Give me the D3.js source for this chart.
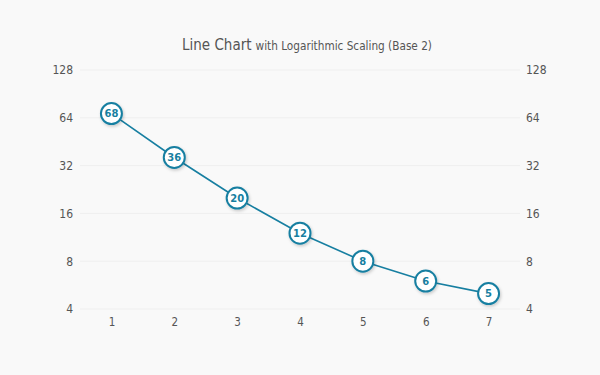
<!DOCTYPE html>
<html><head><meta charset="utf-8">
<script src="https://cdn.jsdelivr.net/npm/d3@7"></script>
<style>
html,body{margin:0;padding:0;background:#f9f9f9;}
svg{display:block;font-family:"DejaVu Sans Condensed","DejaVu Sans",sans-serif;}
</style></head>
<body><svg id="c" width="600" height="375"></svg>
<script>
const categories = [1, 2, 3, 4, 5, 6, 7];
const values = [68, 36, 20, 12, 8, 6, 5];
const yTicks = [4, 8, 16, 32, 64, 128];

(function () {
const svg = d3.select("#c");
const W = 600, H = 375;
const pLeft = 80, pRight = 520, pTop = 70, pBottom = 309;
const color = "#177fa1";

svg.append("rect").attr("width", W).attr("height", H).attr("fill", "#f9f9f9");

const defs = svg.append("defs");
const f = defs.append("filter").attr("id", "sh").attr("x", "-50%").attr("y", "-50%").attr("width", "200%").attr("height", "200%");
f.append("feDropShadow").attr("dx", 1).attr("dy", 1.5).attr("stdDeviation", 1.5).attr("flood-color", "#000").attr("flood-opacity", 0.2);

const x = d3.scalePoint().domain(categories).range([pLeft, pRight]).padding(0.5);
const y = d3.scaleLog().base(2).domain([4, 128]).range([pBottom, pTop]);

svg.append("g").selectAll("line").data(yTicks).join("line")
  .attr("x1", pLeft).attr("x2", pRight)
  .attr("y1", d => y(d)).attr("y2", d => y(d))
  .attr("stroke", "#efefef").attr("stroke-width", 1);

const ff = "'DejaVu Sans Condensed','DejaVu Sans',sans-serif";
const axL = svg.append("g").attr("transform", `translate(${pLeft},0)`)
  .call(d3.axisLeft(y).tickValues(yTicks).tickFormat(d3.format("d")).tickSize(0).tickPadding(7));
axL.select(".domain").remove();
axL.selectAll("text").attr("fill", "#555").style("font-size", "12px").style("font-family", ff);

const axR = svg.append("g").attr("transform", `translate(${pRight},0)`)
  .call(d3.axisRight(y).tickValues(yTicks).tickFormat(d3.format("d")).tickSize(0).tickPadding(6));
axR.select(".domain").remove();
axR.selectAll("text").attr("fill", "#555").style("font-size", "12px").style("font-family", ff);

const axB = svg.append("g").attr("transform", `translate(0,${pBottom})`)
  .call(d3.axisBottom(x).tickSize(0).tickPadding(9));
axB.select(".domain").remove();
axB.selectAll("text").attr("fill", "#555").style("font-size", "11.5px").style("font-family", ff);

const t = svg.append("text").attr("x", 307).attr("y", 50).attr("text-anchor", "middle").attr("fill", "#555").style("font-family", ff);
t.append("tspan").style("font-size", "15px").text("Line Chart");
t.append("tspan").style("font-size", "11.7px").attr("dx", 4).text("with Logarithmic Scaling (Base 2)");

const data = categories.map((c, i) => ({c, v: values[i]}));

svg.append("path").datum(data)
  .attr("fill", "none").attr("stroke", color).attr("stroke-width", 1.6)
  .attr("d", d3.line().x(d => x(d.c)).y(d => y(d.v)));

const pts = svg.append("g").selectAll("g").data(data).join("g")
  .attr("transform", d => `translate(${x(d.c)},${y(d.v)})`);
pts.append("circle").attr("r", 10.5).attr("fill", "#fff").attr("stroke", color).attr("stroke-width", 2).attr("filter", "url(#sh)");
pts.append("text").attr("text-anchor", "middle").attr("dy", "0.36em")
  .attr("fill", color).style("font-size", "10px").style("font-weight", "bold").style("font-family", "'DejaVu Sans','Verdana',sans-serif")
  .text(d => d.v);
})();
</script></body></html>
